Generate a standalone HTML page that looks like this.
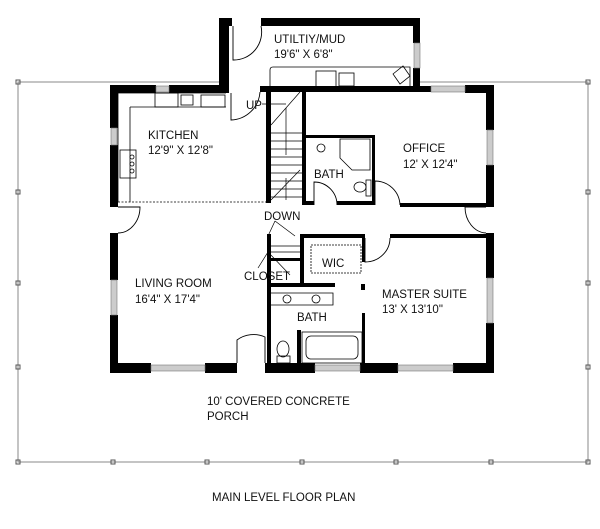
<!DOCTYPE html>
<html><head><meta charset="utf-8"><style>
html,body{margin:0;padding:0;background:#fff}
svg{display:block}
text{font-family:"Liberation Sans",Arial,sans-serif;font-size:11.5px;fill:#111}
</style></head><body>
<svg width="600" height="529" viewBox="0 0 600 529" xmlns="http://www.w3.org/2000/svg">
<!-- porch outline -->
<rect x="18" y="82" width="570" height="380" fill="none" stroke="#888" stroke-width="1"/>
<g fill="none" stroke="#555" stroke-width="1">
<rect x="16" y="80" width="4" height="4"/><rect x="586" y="80" width="4" height="4"/>
<rect x="16" y="190" width="4" height="4"/><rect x="586" y="190" width="4" height="4"/>
<rect x="16" y="281" width="4" height="4"/><rect x="586" y="281" width="4" height="4"/>
<rect x="16" y="365" width="4" height="4"/><rect x="586" y="365" width="4" height="4"/>
<rect x="16" y="460" width="4" height="4"/><rect x="111" y="460" width="4" height="4"/><rect x="205" y="460" width="4" height="4"/><rect x="300" y="460" width="4" height="4"/><rect x="394" y="460" width="4" height="4"/><rect x="489" y="460" width="4" height="4"/><rect x="586" y="460" width="4" height="4"/>
</g>
<rect x="118" y="92" width="368" height="271" fill="#fff"/>
<rect x="228" y="26" width="185" height="62" fill="#fff"/>
<g fill="#000">
<!-- utility -->
<rect x="219" y="18" width="13" height="8"/><rect x="261" y="18" width="159" height="8"/>
<rect x="219" y="18" width="10" height="75"/>
<rect x="413" y="18" width="7" height="25"/><rect x="413" y="68" width="7" height="24"/>
<!-- top walls -->
<rect x="110" y="85" width="46" height="8"/><rect x="169" y="85" width="60" height="8"/>
<rect x="260" y="86" width="171" height="6"/><rect x="465" y="85" width="29" height="8"/>
<!-- left wall -->
<rect x="110" y="85" width="8" height="43"/><rect x="110" y="145" width="8" height="62"/>
<rect x="110" y="233" width="8" height="47"/><rect x="110" y="315" width="8" height="58"/>
<!-- right wall -->
<rect x="486" y="85" width="8" height="45"/><rect x="486" y="165" width="8" height="42"/>
<rect x="486" y="233" width="8" height="45"/><rect x="486" y="323" width="8" height="50"/>
<!-- bottom wall -->
<rect x="110" y="363" width="41" height="10"/><rect x="205" y="363" width="32" height="10"/>
<rect x="265" y="363" width="50" height="10"/><rect x="360" y="363" width="38" height="10"/>
<rect x="453" y="363" width="41" height="10"/>
<!-- interior -->
<rect x="266" y="92" width="5" height="111"/>
<rect x="302" y="92" width="4" height="113"/>
<rect x="304" y="135" width="71" height="3"/>
<rect x="372" y="135" width="3" height="70"/>
<rect x="304" y="201" width="10" height="4"/><rect x="337" y="201" width="38" height="4"/>
<rect x="400" y="203" width="94" height="4"/>
<rect x="300" y="234" width="65" height="4"/><rect x="390" y="234" width="104" height="4"/>
<rect x="267" y="234" width="4" height="139"/>
<rect x="300" y="234" width="4" height="50"/>
<rect x="271" y="258" width="29" height="3"/>
<rect x="271" y="283" width="64" height="4"/>
<rect x="362" y="234" width="3" height="28"/>
<rect x="361" y="284" width="4" height="6"/>
<rect x="362" y="313" width="3" height="50"/>
<rect x="297" y="330" width="4" height="33"/>
</g>
<!-- windows -->
<g fill="#ccc" stroke="#777" stroke-width="0.6">
<rect x="156" y="86" width="13" height="6"/><rect x="431" y="86" width="34" height="6"/>
<rect x="414" y="43" width="6" height="25"/>
<rect x="111" y="128" width="6" height="17"/><rect x="111" y="280" width="6" height="35"/>
<rect x="487" y="130" width="6" height="35"/><rect x="487" y="278" width="6" height="45"/>
<rect x="151" y="365" width="54" height="6"/><rect x="315" y="365" width="45" height="6"/><rect x="398" y="365" width="55" height="6"/>
</g>
<!-- doors -->
<g fill="none" stroke="#000" stroke-width="0.9">
<path d="M233 26 V60 A28 28 0 0 0 261 26"/>
<path d="M231 93 V120 A30 30 0 0 0 260 92"/>
<path d="M118 207 H140 A22 26 0 0 1 118 233"/>
<path d="M486 207 H465 A22 26 0 0 0 486 233"/>
<path d="M314 205 V182 A23 23 0 0 1 337 205"/>
<path d="M375 205 V181 A25 25 0 0 1 400 205"/>
<path d="M365 238 V262 A25 24 0 0 0 390 238"/>
<path d="M237 363 V340 A28 28 0 0 1 265 337 V363"/>
</g>
<!-- stairs -->
<g stroke="#000" stroke-width="0.7" fill="none">
<path d="M271 125 L300 92"/>
<path d="M271 200 L300 170"/>
<path d="M286 108 V155 M286 178 V200"/>
<path d="M271 133H302M271 141H302M271 149H302M271 157H302M271 165H302M271 173H302M271 181H302M271 189H302M271 197H302"/>
<path d="M262 104 H286"/>
<path d="M275 221 L268 236 M275 221 L295 236"/>
<path d="M268 252 L258 268 M268 252 L290 275"/>
</g>
<!-- fixtures -->
<g fill="none" stroke="#000" stroke-width="0.8">
<path d="M118 93 H226 M118 93 V202 M130 107 H226 M130 107 V202"/>
<rect x="155" y="93" width="23" height="14"/>
<rect x="181" y="95" width="12" height="10"/>
<rect x="201" y="95" width="24" height="12"/>
<rect x="120" y="150" width="16" height="28"/>
<circle cx="132" cy="157" r="2"/><circle cx="132" cy="164" r="2"/><circle cx="132" cy="171" r="2"/>
<path d="M118 202 H266" stroke-dasharray="2 1.5"/>
<path d="M270 92 V70 Q270 67 273 67 H410 V88"/>
<rect x="316" y="71" width="20" height="16"/><rect x="339" y="73" width="15" height="13"/>
<path d="M393 74 L403 66 L410 76 L400 84 Z"/>
<circle cx="321" cy="148" r="4"/>
<path d="M340 139 H370 V170 H352 L340 158 Z"/>
<ellipse cx="360" cy="187" rx="6" ry="5"/><rect x="366" y="180" width="5" height="16"/>
<rect x="311" y="245" width="50" height="28" stroke-dasharray="2 1"/>
<path d="M271 246 H300 M271 252 H300"/>
<path d="M271 293 H333 V305 H271"/>
<circle cx="287" cy="299" r="4"/><circle cx="316" cy="299" r="4"/>
<rect x="302" y="332" width="60" height="31"/>
<rect x="306" y="336" width="52" height="23" rx="5"/>
<ellipse cx="283" cy="349" rx="6" ry="8"/><rect x="277" y="356" width="13" height="7"/>
</g>
<!-- labels -->
<text x="274" y="43">UTILTIY/MUD</text>
<text x="274" y="58">19'6" X 6'8"</text>
<text x="148" y="139">KITCHEN</text>
<text x="148" y="154">12'9" X 12'8"</text>
<text x="403" y="152">OFFICE</text>
<text x="403" y="168">12' X 12'4"</text>
<text x="314" y="178">BATH</text>
<text x="246" y="109">UP</text>
<text x="264" y="220">DOWN</text>
<text x="322" y="267">WIC</text>
<text x="244" y="280">CLOSET</text>
<text x="135" y="287">LIVING ROOM</text>
<text x="135" y="303">16'4" X 17'4"</text>
<text x="382" y="298">MASTER SUITE</text>
<text x="382" y="313">13' X 13'10"</text>
<text x="297" y="321">BATH</text>
<text x="207" y="405">10' COVERED CONCRETE</text>
<text x="207" y="420">PORCH</text>
<text x="212" y="501">MAIN LEVEL FLOOR PLAN</text>
</svg>
</body></html>
